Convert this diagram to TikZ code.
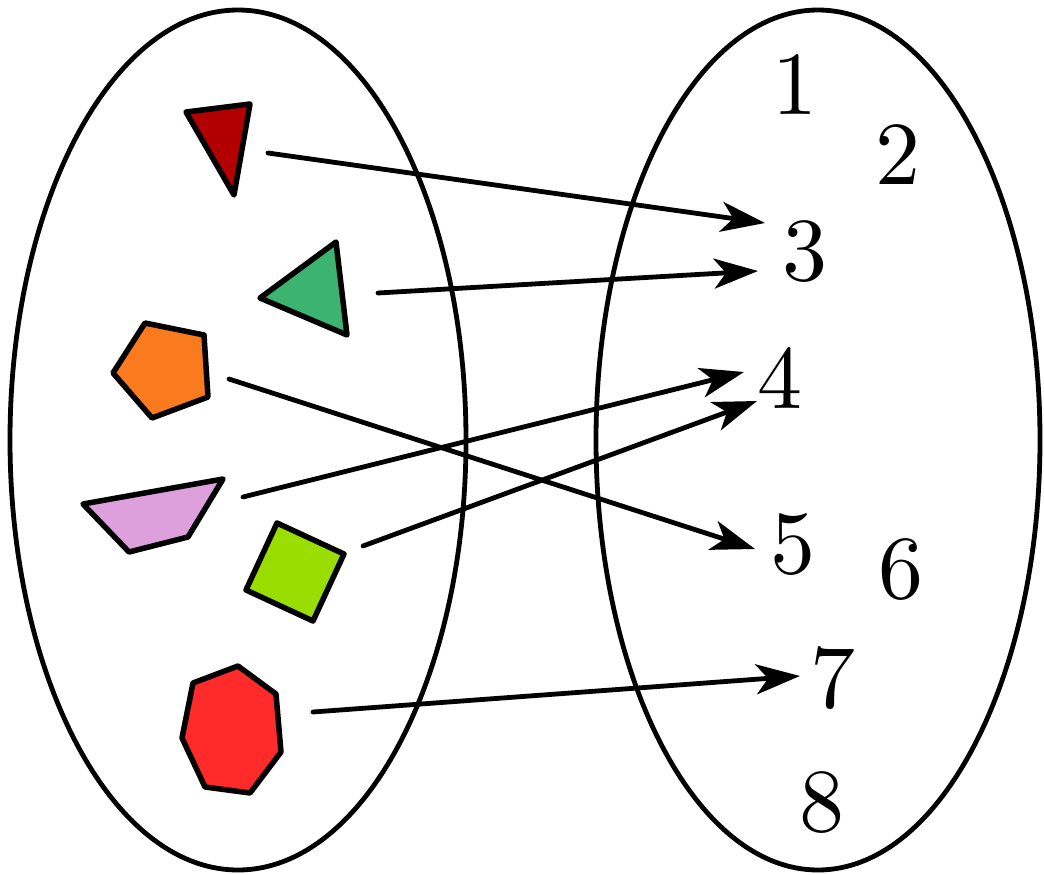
\documentclass[tikz,border=0pt]{standalone}
\usetikzlibrary{arrows.meta}
\begin{document}
\begin{tikzpicture}[x=1pt,y=-1pt,
  setline/.style={line width=4.8pt},
  shp/.style={draw=black,line width=5.5pt,line join=round},
  maparrow/.style={line width=4.8pt,line cap=round,-{Stealth[length=44pt,width=30pt,inset=12pt]}},
  num/.style={inner sep=0pt,font=\normalsize,scale=9.0}]
\useasboundingbox (0,0) rectangle (1044,875);
\fill[white] (0,0) rectangle (1044,875);
% sets
\draw[setline] (238,440) ellipse [x radius=228, y radius=430];
\draw[setline] (818,440) ellipse [x radius=222, y radius=430];
% shapes
\filldraw[shp,fill={rgb,255:red,178;green,0;blue,0}] (186,112) -- (250,104) -- (234,195) -- cycle;
\filldraw[shp,fill={rgb,255:red,60;green,179;blue,113}] (260,298) -- (336,242) -- (347,335) -- cycle;
\filldraw[shp,fill={rgb,255:red,249;green,123;blue,29}] (145,323) -- (204,335) -- (208,397) -- (152,418) -- (113,373) -- cycle;
\filldraw[shp,fill={rgb,255:red,221;green,160;blue,221}] (83,504) -- (223,479) -- (188,537) -- (129,552) -- cycle;
\filldraw[shp,fill={rgb,255:red,153;green,222;blue,0}] (277,523) -- (344,554) -- (313,621) -- (246,590) -- cycle;
\filldraw[shp,fill={rgb,255:red,255;green,42;blue,42}] (193,683) -- (238,666) -- (276,694) -- (281,752) -- (250,793) -- (205,787) -- (182,738) -- cycle;
% numbers
\node[num] (n1) at (795,85) {1};
\node[num] (n2) at (898,155) {2};
\node[num] (n3) at (805,252) {3};
\node[num] (n4) at (780,378) {4};
\node[num] (n5) at (793,545) {5};
\node[num] (n6) at (901,570) {6};
\node[num] (n7) at (833,678) {7};
\node[num] (n8) at (822,803) {8};
% arrow endpoints
\coordinate (s1) at (268,153); \coordinate (t1) at (765,223);
\coordinate (s2) at (378,293); \coordinate (t2) at (758,271);
\coordinate (s3) at (229,379); \coordinate (t3) at (755,549);
\coordinate (s4) at (243,497); \coordinate (t4) at (744,372);
\coordinate (s5) at (363,546); \coordinate (t5) at (757,401);
\coordinate (s6) at (313,712); \coordinate (t6) at (800,676);
\draw[maparrow] (s1) -- (t1);
\draw[maparrow] (s2) -- (t2);
\draw[maparrow] (s3) -- (t3);
\draw[maparrow] (s4) -- (t4);
\draw[maparrow] (s5) -- (t5);
\draw[maparrow] (s6) -- (t6);
\end{tikzpicture}
\end{document}
